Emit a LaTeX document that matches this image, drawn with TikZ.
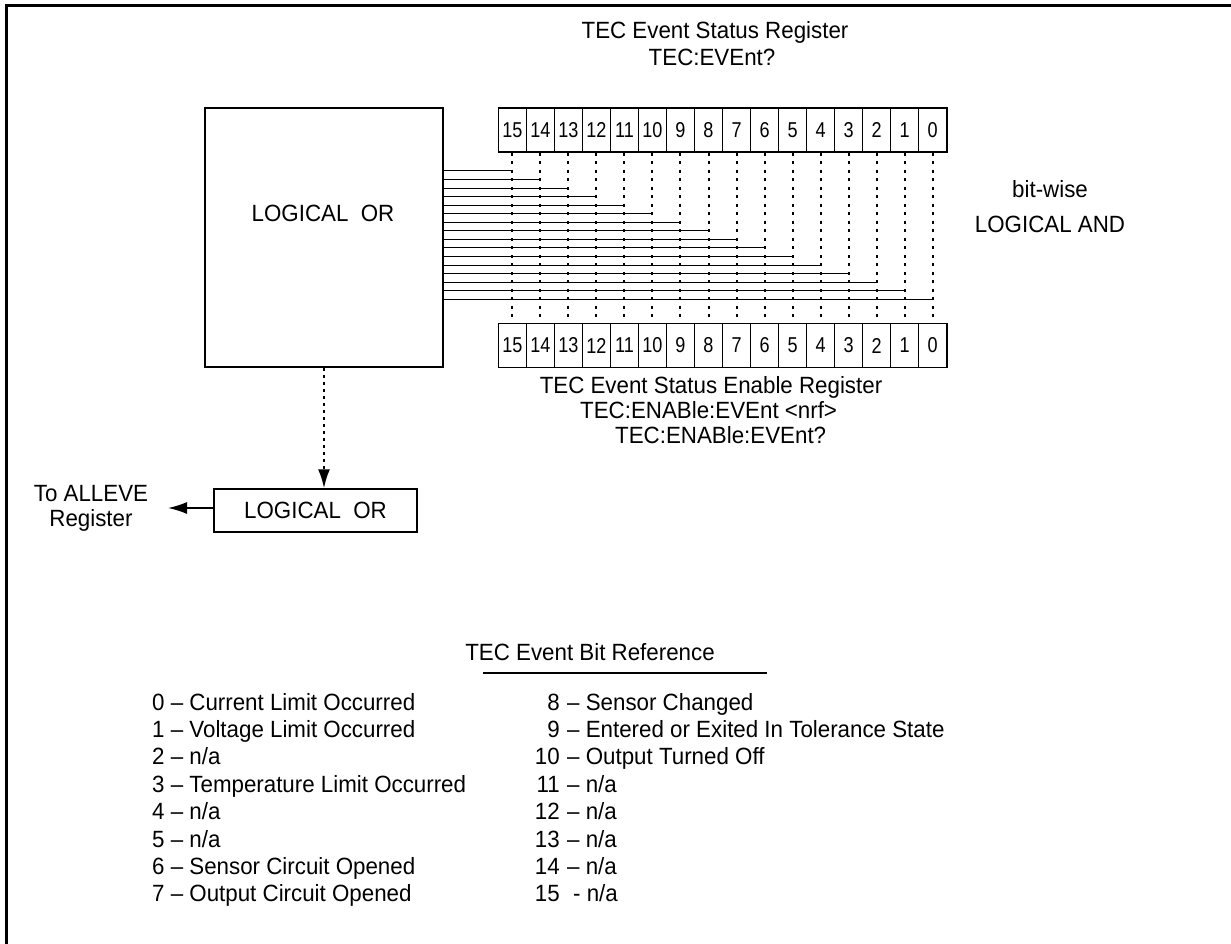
\documentclass[tikz,border=0pt]{standalone}
\usepackage{fontspec}
\setmainfont[FakeStretch=0.95]{Liberation Sans}
\newfontfamily\etroit[FakeStretch=0.84]{Liberation Sans}
\usetikzlibrary{arrows.meta, positioning, calc}

\begin{document}
\begin{tikzpicture}[
    x=1pt, y=-1pt,
    texte/.style={inner sep=0pt, font=\fontsize{23.5}{23.5}\selectfont},
    case/.style={draw, line width=1.5pt, minimum width=28.03pt, minimum height=44pt,
                 inner sep=0pt, font=\etroit\fontsize{21.5}{21.5}\selectfont},
    boite/.style={draw, line width=1.5pt, inner sep=0pt,
                  font=\fontsize{23.5}{23.5}\selectfont},
    pointille/.style={line width=2pt, dash pattern=on 3pt off 5.5pt},
    fleche/.style={-{Latex[length=19pt, width=12pt]}},
    liaison/.style={line width=1pt}
  ]
    \useasboundingbox (0,0) rectangle (1231,944);
    \clip (0,0) rectangle (1231,944);

    % Cadre
    \draw[line width=2.5pt] (1240,5.5) -- (6.5,5.5) -- (6.5,950);

    % Registres
    \foreach \i in {0,...,15} {
      \node[case] (haut\i) at ({512.3+(15-\i)*28.03},130)   {\i};
      \node[case] (bas\i)  at ({512.3+(15-\i)*28.03},345.5) {\i};
    }

    % OU logique
    \node[boite, minimum width=238pt, minimum height=259pt] (ou) at (324,237.5) {};
    \node[texte] (ouTexte) at (323,213) {LOGICAL\ \ OR};
    \node[boite, minimum width=203pt, minimum height=43pt] (ouBas) at (315.5,510.5)
      {LOGICAL\ \ OR};

    % Liaisons bit a bit
    \foreach \i in {0,...,15} {
      \pgfmathsetmacro\yy{171+(15-\i)*8.55}
      \coordinate (t\i) at (haut\i.south |- 0,\yy);
      \draw[pointille] (haut\i.south) -- (bas\i.north);
      \draw[liaison] (ou.east |- t\i) -- (t\i);
    }

    % Fleches
    \draw[line width=2pt, dash pattern=on 3pt off 4pt, fleche]
      (ou.south) -- (ou.south |- ouBas.north);
    \coordinate (sortie) at (168,508);
    \draw[line width=1.5pt, fleche] (ouBas.west |- sortie) -- (sortie);

    % Textes
    \node[texte, anchor=base] (titreHaut) at (715,39) {TEC Event Status Register};
    \node[texte, anchor=base] (cmdHaut) at (712,66) {TEC:EVEnt?};
    \node[texte, anchor=base] (titreBas) at (711,393) {TEC Event Status Enable Register};
    \node[texte, anchor=base west] (cmdBas) at (580,418.5) {TEC:ENABle:EVEnt <nrf>};
    \node[texte, anchor=base west] (reqBas) at (615,443.5) {TEC:ENABle:EVEnt?};
    \node[texte, anchor=base] (etA) at (1050,198) {bit-wise};
    \node[texte, anchor=base] (etB) at (1050,233) {LOGICAL AND};
    \node[texte, anchor=base] (allA) at (91,501) {To ALLEVE};
    \node[texte, anchor=base] (allB) at (91,526) {Register};

    % Reference des bits
    \node[texte, anchor=base] (refTitre) at (590,660) {TEC Event Bit Reference};
    \draw[line width=2pt] (483,673) -- (767,673);
    \foreach \t [count=\k from 0] in {Current Limit Occurred, Voltage Limit Occurred,
        {n/a}, Temperature Limit Occurred, {n/a}, {n/a}, Sensor Circuit Opened,
        Output Circuit Opened}
      \node[texte, anchor=base west] (gauche\k) at (152,{710+27.4*\k}) {\k{} – \t};
    \foreach \t [count=\k from 8] in {Sensor Changed,
        Entered or Exited In Tolerance State, Output Turned Off,
        {n/a}, {n/a}, {n/a}, {n/a}} {
      \node[texte, anchor=base east] (num\k) at (560,{710+27.4*(\k-8)}) {\k};
      \node[texte, anchor=base west] (droite\k) at (567,{710+27.4*(\k-8)}) {– \t};
    }
    \node[texte, anchor=base east] (num15) at (560,901.8) {15};
    \node[texte, anchor=base west] (droite15) at (573,901.8) {- n/a};
  \end{tikzpicture}
\end{document}
